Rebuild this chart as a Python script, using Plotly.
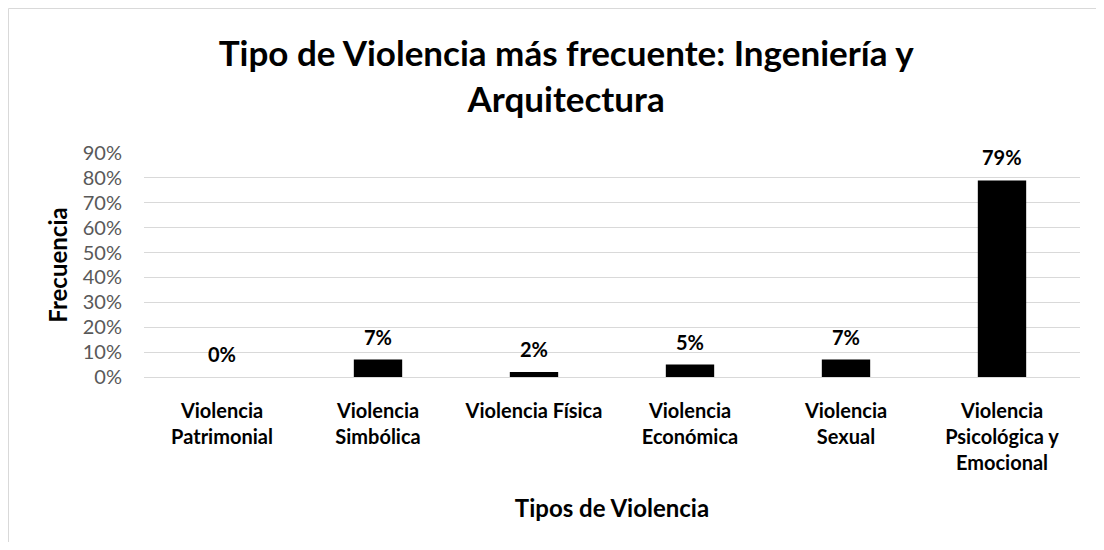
import plotly.graph_objects as go

categories = ["Violencia<br>Patrimonial", "Violencia<br>Simbólica", "Violencia Física",
              "Violencia<br>Económica", "Violencia<br>Sexual", "Violencia<br>Psicológica y<br>Emocional"]
values = [0.00, 0.07, 0.02, 0.05, 0.07, 0.79]
labels = ["0%", "7%", "2%", "5%", "7%", "79%"]
y_ticks = [0, 0.1, 0.2, 0.3, 0.4, 0.5, 0.6, 0.7, 0.8, 0.9]

FONT = "Lato"
x_idx = list(range(len(categories)))

W, H = 1088, 534
L, R, T, B = 136, 16, 145, 165
PW, PH = W - L - R, H - T - B

fig = go.Figure()
fig.add_trace(go.Bar(x=x_idx, y=values, marker=dict(color="black", line=dict(width=0)),
                     width=0.31, hoverinfo="skip"))

for xi, v, t in zip(x_idx, values, labels):
    fig.add_annotation(x=xi, y=v, text=t, showarrow=False, yshift=23,
                       font=dict(family=FONT, size=20, color="black", weight="bold"))

fig.update_layout(
    width=W, height=H,
    margin=dict(l=L, r=R, t=T, b=B, autoexpand=False),
    paper_bgcolor="white", plot_bgcolor="white",
    showlegend=False,
    title=dict(text="Tipo de Violencia más frecuente: Ingeniería y<br>Arquitectura",
               x=0.513, xanchor="center", y=1 - 58 / H, yanchor="middle",
               font=dict(family=FONT, size=35, color="black", weight="bold")),
    xaxis=dict(tickmode="array", tickvals=x_idx, ticktext=categories,
               range=[-0.5, 5.5], showgrid=False, zeroline=False,
               showline=False, ticks="", automargin=False, ticklabelstandoff=20,
               tickfont=dict(family=FONT, size=20, color="black", weight="bold"),
               title=dict(text="Tipos de Violencia", standoff=27,
                          font=dict(family=FONT, size=24, color="black", weight="bold"))),
    yaxis=dict(range=[0, 0.9], tickvals=y_ticks, tickformat=".0%",
               showgrid=True, gridcolor="#d9d9d9", gridwidth=1,
               zeroline=True, zerolinecolor="#d9d9d9", zerolinewidth=1,
               showline=False, ticks="", ticklabelstandoff=21, automargin=False,
               tickfont=dict(family=FONT, size=20, color="#595959"),
               title=dict(text="Frecuencia", standoff=8,
                          font=dict(family=FONT, size=24, color="black", weight="bold"))),
    shapes=[dict(type="rect", xref="paper", yref="paper",
                 x0=-(L - 0.5) / PW, x1=(W - L + 20) / PW,
                 y0=-(B + 20) / PH, y1=1 + (T - 0.5) / PH,
                 line=dict(color="#d9d9d9", width=1), fillcolor="rgba(0,0,0,0)", layer="below")],
)

fig.write_html("out.html")
